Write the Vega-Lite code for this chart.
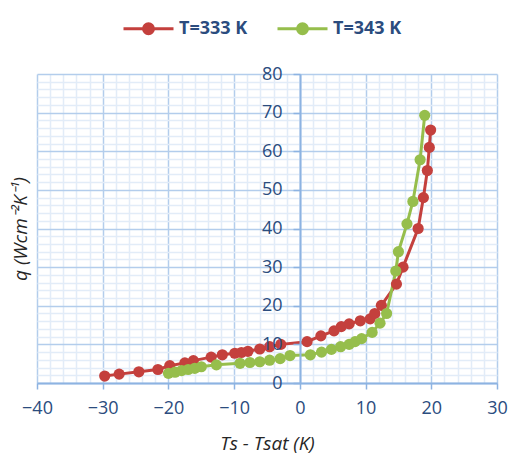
{
  "$schema": "https://vega.github.io/schema/vega-lite/v6.json",
  "width": 460,
  "height": 309,
  "autosize": {"type": "none"},
  "padding": {"left": 37, "top": 74, "right": 14, "bottom": 72},
  "background": "white",
  "config": {"view": {"stroke": null}, "font": "Open Sans"},
  "data": {
    "values": [
      {"series": "T=333 K", "x": -29.7, "q": 1.8},
      {"series": "T=333 K", "x": -27.5, "q": 2.3},
      {"series": "T=333 K", "x": -24.5, "q": 2.9},
      {"series": "T=333 K", "x": -21.6, "q": 3.5},
      {"series": "T=333 K", "x": -19.8, "q": 4.5},
      {"series": "T=333 K", "x": -17.5, "q": 5.2},
      {"series": "T=333 K", "x": -16.2, "q": 5.8},
      {"series": "T=333 K", "x": -13.5, "q": 6.7},
      {"series": "T=333 K", "x": -11.8, "q": 7.3},
      {"series": "T=333 K", "x": -9.9, "q": 7.7},
      {"series": "T=333 K", "x": -8.9, "q": 7.9},
      {"series": "T=333 K", "x": -7.9, "q": 8.2},
      {"series": "T=333 K", "x": -6.1, "q": 8.8},
      {"series": "T=333 K", "x": -4.6, "q": 9.4},
      {"series": "T=333 K", "x": -2.9, "q": 10.0},
      {"series": "T=333 K", "x": 1.1, "q": 10.7},
      {"series": "T=333 K", "x": 3.2, "q": 12.2},
      {"series": "T=333 K", "x": 5.2, "q": 13.5},
      {"series": "T=333 K", "x": 6.3, "q": 14.6},
      {"series": "T=333 K", "x": 7.5, "q": 15.3},
      {"series": "T=333 K", "x": 9.2, "q": 16.1},
      {"series": "T=333 K", "x": 10.7, "q": 16.6},
      {"series": "T=333 K", "x": 11.4, "q": 18.0},
      {"series": "T=333 K", "x": 12.4, "q": 20.1},
      {"series": "T=333 K", "x": 14.7, "q": 25.6},
      {"series": "T=333 K", "x": 15.7, "q": 30.0},
      {"series": "T=333 K", "x": 18.0, "q": 40.0},
      {"series": "T=333 K", "x": 18.8, "q": 48.0},
      {"series": "T=333 K", "x": 19.4, "q": 55.0},
      {"series": "T=333 K", "x": 19.7, "q": 61.0},
      {"series": "T=333 K", "x": 19.9, "q": 65.5},
      {"series": "T=343 K", "x": -20.0, "q": 2.5},
      {"series": "T=343 K", "x": -19.0, "q": 2.8},
      {"series": "T=343 K", "x": -18.0, "q": 3.2},
      {"series": "T=343 K", "x": -17.0, "q": 3.5},
      {"series": "T=343 K", "x": -16.0, "q": 3.8},
      {"series": "T=343 K", "x": -15.0, "q": 4.2},
      {"series": "T=343 K", "x": -12.7, "q": 4.7},
      {"series": "T=343 K", "x": -9.1, "q": 5.1},
      {"series": "T=343 K", "x": -7.6, "q": 5.3},
      {"series": "T=343 K", "x": -6.1, "q": 5.5},
      {"series": "T=343 K", "x": -4.6, "q": 5.9},
      {"series": "T=343 K", "x": -3.0, "q": 6.3},
      {"series": "T=343 K", "x": -1.5, "q": 7.1},
      {"series": "T=343 K", "x": 1.6, "q": 7.3},
      {"series": "T=343 K", "x": 3.3, "q": 8.0},
      {"series": "T=343 K", "x": 4.8, "q": 8.7},
      {"series": "T=343 K", "x": 6.2, "q": 9.4},
      {"series": "T=343 K", "x": 7.5, "q": 10.0},
      {"series": "T=343 K", "x": 8.4, "q": 10.7},
      {"series": "T=343 K", "x": 9.4, "q": 11.5},
      {"series": "T=343 K", "x": 11.0, "q": 13.1},
      {"series": "T=343 K", "x": 12.2, "q": 15.5},
      {"series": "T=343 K", "x": 13.2, "q": 18.0},
      {"series": "T=343 K", "x": 14.6, "q": 29.0},
      {"series": "T=343 K", "x": 15.0, "q": 34.0},
      {"series": "T=343 K", "x": 16.3, "q": 41.2},
      {"series": "T=343 K", "x": 17.2, "q": 47.0},
      {"series": "T=343 K", "x": 18.3, "q": 57.8},
      {"series": "T=343 K", "x": 19.0, "q": 69.3}
    ]
  },
  "layer": [
    {
      "mark": {"type": "line", "strokeWidth": 3},
      "encoding": {
        "x": {
          "field": "x", "type": "quantitative",
          "scale": {"domain": [-40, 30], "nice": false, "zero": false},
          "axis": {
            "orient": "bottom",
            "values": [-40,-38,-36,-34,-32,-30,-28,-26,-24,-22,-20,-18,-16,-14,-12,-10,-8,-6,-4,-2,0,2,4,6,8,10,12,14,16,18,20,22,24,26,28,30],
            "grid": true, "labels": false, "ticks": false, "domain": false, "title": null,
            "gridColor": {"condition": {"test": "datum.value % 10 === 0", "value": "#b3cdec"}, "value": "#e2ecf8"},
            "gridWidth": 1.5, "zindex": 0
          }
        },
        "y": {
          "field": "q", "type": "quantitative",
          "scale": {"domain": [0, 80], "nice": false},
          "axis": {
            "orient": "left",
            "values": [0,2,4,6,8,10,12,14,16,18,20,22,24,26,28,30,32,34,36,38,40,42,44,46,48,50,52,54,56,58,60,62,64,66,68,70,72,74,76,78,80],
            "grid": true, "labels": false, "ticks": false, "domain": false, "title": null,
            "gridColor": {"condition": {"test": "datum.value % 10 === 0", "value": "#b3cdec"}, "value": "#e2ecf8"},
            "gridWidth": 1.5, "zindex": 0
          }
        },
        "color": {
          "field": "series", "type": "nominal",
          "scale": {"domain": ["T=333 K", "T=343 K"], "range": ["#c4403d", "#96be4c"]},
          "legend": {
            "orient": "none", "legendX": 85, "legendY": -72, "direction": "horizontal",
            "title": null, "padding": 0,
            "symbolType": "M-1,0H1M-0.2,0A0.2,0.2,0,1,1,0.2,0A0.2,0.2,0,1,1,-0.2,0Z",
            "symbolSize": 2500, "symbolStrokeWidth": 3, "symbolOpacity": 1,
            "labelFont": "Open Sans", "labelFontSize": 18, "labelFontWeight": "bold",
            "labelColor": "#2b4c7e", "labelOffset": 4, "columnPadding": 23,
            "encode": {"symbols": {"update": {"fill": {"scale": "color", "field": "value"}, "stroke": {"scale": "color", "field": "value"}}}}
          }
        }
      }
    },
    {
      "mark": {"type": "point", "filled": true, "size": 125, "opacity": 1},
      "encoding": {
        "x": {
          "field": "x", "type": "quantitative",
          "axis": {
            "orient": "bottom",
            "values": [-40, -30, -20, -10, 0, 10, 20, 30],
            "grid": false, "labelFlush": false, "labelOverlap": false,
            "domainColor": "#8db3e2", "domainWidth": 2,
            "tickColor": "#8db3e2", "tickWidth": 1.5, "tickSize": 6,
            "labelFont": "Open Sans", "labelFontSize": 18, "labelColor": "#2b4c7e", "labelPadding": 10,
            "title": "Ts - Tsat (K)", "titleFont": "Open Sans", "titleFontSize": 19,
            "titleFontStyle": "italic", "titleFontWeight": "normal", "titleColor": "#262626",
            "titleBaseline": "middle", "titleY": 60,
            "zindex": 1
          }
        },
        "y": {
          "field": "q", "type": "quantitative",
          "axis": {
            "orient": "left",
            "values": [0, 10, 20, 30, 40, 50, 60, 70, 80],
            "offset": -263,
            "grid": false, "labelOverlap": false,
            "domainColor": "#8db3e2", "domainWidth": 2,
            "tickColor": "#8db3e2", "tickWidth": 1.5, "tickSize": 7,
            "labelFont": "Open Sans", "labelFontSize": 18, "labelColor": "#2b4c7e", "labelPadding": 11,
            "title": "q (Wcm⁻²K⁻¹)", "titleFont": "Open Sans", "titleFontSize": 19,
            "titleFontStyle": "italic", "titleFontWeight": "normal", "titleColor": "#262626",
            "titleBaseline": "middle", "titleX": -280,
            "zindex": 1
          }
        },
        "color": {"field": "series", "type": "nominal"}
      }
    }
  ],
  "resolve": {"axis": {"x": "independent", "y": "independent"}}
}
